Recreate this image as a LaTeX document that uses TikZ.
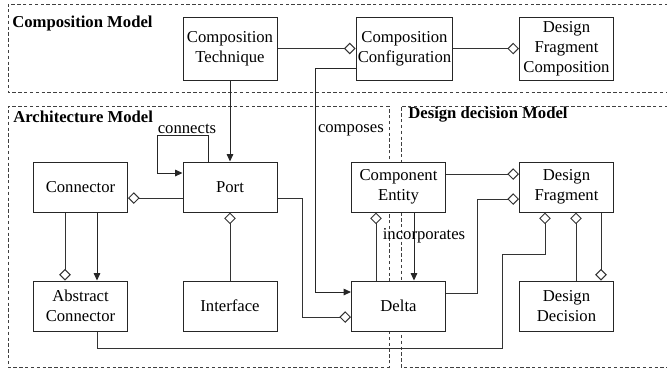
\documentclass[tikz,border=0pt]{standalone}
\usepackage{fontspec}
\setmainfont{Liberation Serif}
\usetikzlibrary{arrows.meta,calc}

\tikzset{
  box/.style={draw=black!85, fill=white, line width=0.6pt, minimum width=56.4pt, minimum height=30pt, align=center, inner sep=1pt},
  topbox/.style={box, minimum height=37.8pt},
  frame/.style={draw=black!75, line width=0.5pt, dash pattern=on 2pt off 1.5pt},
  agg/.style={draw=black!80, line width=0.6pt, -{Diamond[open,length=7pt,width=7pt]}},
  assoc/.style={draw=black!85, line width=0.6pt, -{Triangle[length=4.5pt,width=4pt]}},
  title/.style={font=\bfseries, anchor=west, inner sep=0pt}
}

\begin{document}
\begin{tikzpicture}[x=0.6pt, y=-0.6pt]
 \useasboundingbox (0,0) rectangle (667,369);

 % frames
 \draw[frame] (668,4) -- (8,4) -- (8,92) -- (668,92);
 \draw[frame] (389,106) -- (8,106) -- (8,367) -- (389,367) -- cycle;
 \draw[frame] (668,106) -- (401,106) -- (401,367) -- (668,367);

 \node[title] (tcomp) at (12,23) {Composition Model};
 \node[title] (tarch) at (13,117) {Architecture Model};
 \node[title] (tdec) at (408,115) {Design decision Model};

 %composition level
 \foreach \n/\x/\txt in {ct/230/{Composition\\Technique}, cc/404.5/{Composition\\Configuration}, dfc/566.5/{Design\\Fragment\\Composition}} {
   \node[topbox] (\n) at (\x,48.5) {\txt};
 }

 %middle row
 \foreach \n/\x/\txt in {conn/80.5/Connector, port/230/Port, ce/398.5/{Component\\Entity}, df/566.5/{Design\\Fragment}} {
   \node[box] (\n) at (\x,187) {\txt};
 }

 %bottom row
 \foreach \n/\x/\txt in {absconn/80.5/{Abstract\\Connector}, interface/230/Interface, delta/398.5/Delta, dd/566.5/{Design\\Decision}} {
   \node[box] (\n) at (\x,306) {\txt};
 }

 % lines
 \draw[agg] (ct) -- (cc);
 \draw[agg] (cc) -- (dfc);
 \draw[assoc] (ct) -- (port);

 \draw[assoc] ($(cc.west)+(0,19.5)$) -| ($(delta.west)+(-36,-14)$) -- ($(delta.west)+(0,-14)$);
 \node[anchor=west, inner sep=1pt] (lcomposes) at (316,130) {composes};

 \draw[assoc] ($(port.north)+(-22,0)$) -- ++(0,-26) -| ($(port.west)+(-25,-14)$) -- ($(port.west)+(0,-14)$);
 \node[inner sep=1pt] (lconnects) at (187,129) {connects};

 \draw[agg] ($(port.west)+(0,11)$) -- ($(conn.east)+(0,11)$);
 \draw[agg] ($(conn.south)+(-15.5,0)$) -- ($(absconn.north)+(-15.5,0)$);
 \draw[assoc] ($(conn.south)+(16.5,0)$) -- ($(absconn.north)+(16.5,0)$);
 \draw[agg] (interface) -- (port);
 \draw[agg] ($(port.east)+(0,11)$) -- ++(25,0) |- ($(delta.west)+(0,11)$);

 \draw[agg] ($(absconn.south)+(16.5,0)$) -- ++(0,17) -| ($(df.south)+(-64.5,42)$) -| ($(df.south)+(-21.5,0)$);

 \draw[agg] ($(ce.east)+(0,-13)$) -- ($(df.west)+(0,-13)$);
 \draw[agg] ($(delta.east)+(0,-13)$) -- ++(31,0) |- ($(df.west)+(0,12)$);
 \draw[agg] ($(delta.north)+(-22.5,0)$) -- ($(ce.south)+(-22.5,0)$);
 \draw[assoc] ($(ce.south)+(15.5,0)$) -- ($(delta.north)+(15.5,0)$);
 \node[inner sep=1pt] (lincorp) at (424,236) {incorporates};

 \draw[agg] ($(dd.north)+(9.5,0)$) -- ($(df.south)+(9.5,0)$);
 \draw[agg] ($(df.south)+(34.5,0)$) -- ($(dd.north)+(34.5,0)$);

\end{tikzpicture}
\end{document}
